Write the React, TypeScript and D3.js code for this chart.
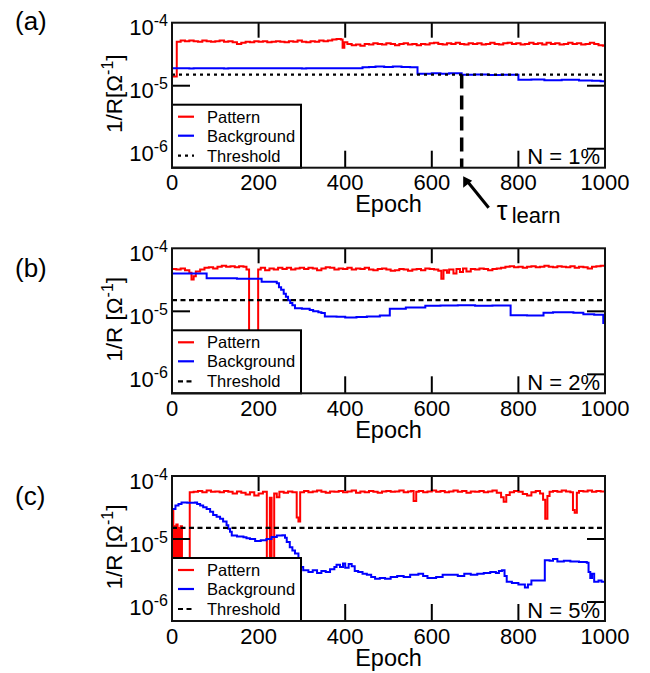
import React from 'react'
import { scaleLinear, scaleLog, line, curveStepAfter } from 'd3'

// [epoch, 1/R] pairs, 1/R in units of 1e-5 Ohm^-1
const patternA: [number, number][] = [
  [0, 1.4], [11, 5.0], [20, 5.2], [30, 5.1], [40, 5.2], [50, 5.1], [60, 5.0], [70, 5.2], [80, 5.1], [90, 5.0],
  [100, 5.1], [110, 5.2], [120, 5.0], [130, 5.1], [140, 4.9], [150, 4.6], [160, 4.8], [170, 5.0], [180, 4.9],
  [190, 5.1], [200, 5.0], [210, 5.1], [220, 4.9], [230, 5.0], [240, 5.1], [250, 5.0], [260, 4.9], [270, 5.1],
  [280, 5.0], [290, 5.2], [300, 5.0], [310, 4.9], [320, 5.1], [330, 5.0], [340, 5.2], [350, 5.1], [360, 5.2],
  [370, 5.4], [380, 5.5], [390, 5.4], [394, 4.0], [398, 4.9], [405, 4.6], [415, 4.4], [425, 4.5], [435, 4.3],
  [445, 4.6], [455, 4.5], [465, 4.7], [475, 4.6], [485, 4.5], [495, 4.7], [505, 4.6], [515, 4.4], [525, 4.6],
  [535, 4.7], [545, 4.5], [555, 4.6], [565, 4.4], [575, 4.6], [585, 4.5], [595, 4.7], [605, 4.8], [615, 4.6],
  [625, 4.5], [635, 4.7], [645, 4.6], [655, 4.8], [665, 4.6], [675, 4.5], [685, 4.7], [695, 4.6], [705, 4.7],
  [715, 4.5], [725, 4.6], [735, 4.8], [745, 4.6], [755, 4.5], [765, 4.7], [775, 4.8], [785, 4.6], [795, 4.7],
  [805, 4.5], [815, 4.6], [825, 4.8], [835, 4.6], [845, 4.7], [855, 4.5], [865, 4.8], [875, 4.6], [885, 4.7],
  [895, 4.5], [905, 4.6], [915, 4.8], [925, 4.6], [935, 4.7], [945, 4.5], [955, 4.6], [965, 4.8], [975, 4.6],
  [985, 4.4], [995, 4.3], [1000, 4.3],
]
const backgroundA: [number, number][] = [
  [0, 1.9], [40, 1.88], [50, 1.9], [120, 1.88], [130, 1.9], [200, 1.89], [210, 1.9], [300, 1.88], [310, 1.9],
  [440, 1.97], [455, 1.99], [470, 2.02], [490, 1.99], [510, 2.02], [530, 1.99], [550, 1.97], [567, 1.55],
  [600, 1.57], [620, 1.55], [640, 1.58], [669, 1.49], [700, 1.5], [730, 1.48], [760, 1.49], [800, 1.24],
  [830, 1.25], [860, 1.22], [900, 1.24], [940, 1.21], [970, 1.2], [990, 1.18], [1000, 1.18],
]
const patternB: [number, number][] = [
  [0, 4.7], [10, 4.6], [20, 4.8], [30, 4.5], [40, 4.1], [45, 3.2], [50, 3.6], [55, 4.3], [65, 4.6], [75, 4.9],
  [85, 5.0], [95, 4.8], [105, 5.1], [115, 5.3], [125, 5.1], [135, 5.2], [145, 5.0], [155, 5.2], [165, 5.1],
  [172, 4.6], [178, 0.01], [199, 4.6], [205, 4.9], [215, 4.5], [225, 4.8], [235, 4.6], [245, 4.9], [255, 4.7],
  [265, 4.9], [275, 4.6], [285, 4.8], [295, 4.9], [305, 4.7], [315, 4.9], [325, 4.8], [335, 4.5], [345, 4.8],
  [355, 5.0], [365, 4.9], [375, 4.6], [385, 4.8], [395, 4.7], [405, 4.9], [415, 4.6], [425, 4.8], [435, 4.7],
  [445, 4.9], [455, 4.6], [465, 4.5], [475, 4.7], [485, 4.8], [495, 4.6], [505, 4.4], [515, 4.5], [525, 4.7],
  [535, 4.6], [545, 4.4], [555, 4.6], [565, 4.7], [575, 4.5], [585, 4.8], [595, 4.7], [605, 4.6], [615, 4.4],
  [622, 3.3], [627, 4.5], [635, 4.1], [640, 4.6], [650, 4.0], [657, 4.7], [665, 4.2], [672, 4.8], [680, 4.3],
  [690, 4.7], [700, 4.6], [710, 4.8], [720, 4.7], [730, 4.5], [740, 4.7], [750, 4.8], [760, 4.9], [770, 5.1],
  [780, 5.2], [790, 5.0], [800, 5.1], [810, 4.9], [820, 5.1], [830, 5.2], [840, 5.0], [850, 5.1], [860, 5.3],
  [870, 5.1], [880, 5.0], [890, 5.2], [900, 5.1], [910, 5.0], [920, 5.2], [930, 4.9], [940, 5.1], [950, 5.0],
  [960, 4.8], [970, 5.1], [980, 5.2], [990, 5.3], [1000, 5.3],
]
const backgroundB: [number, number][] = [
  [0, 4.0], [80, 3.35], [150, 3.3], [207, 2.95], [242, 2.8], [247, 2.4], [252, 2.2], [258, 1.9], [263, 1.7],
  [268, 1.5], [273, 1.35], [278, 1.25], [284, 1.12], [300, 1.1], [318, 1.05], [326, 1.0], [338, 0.97],
  [345, 0.94], [353, 0.83], [380, 0.82], [400, 0.8], [426, 0.81], [450, 0.83], [480, 0.86], [503, 1.1],
  [540, 1.15], [585, 1.22], [620, 1.24], [660, 1.25], [700, 1.23], [740, 1.24], [782, 0.87], [820, 0.86],
  [858, 0.95], [880, 0.97], [927, 0.95], [950, 0.9], [975, 0.88], [996, 0.65], [1000, 0.65],
]
const patternC: [number, number][] = [
  [0, 2.9], [3, 0.01], [5, 1.6], [8, 0.01], [10, 1.7], [13, 0.01], [15, 1.5], [18, 0.01], [20, 1.6], [23, 0.01],
  [41, 5.5], [50, 5.6], [60, 5.8], [70, 5.5], [80, 5.9], [90, 5.6], [100, 5.7], [110, 5.5], [120, 5.8],
  [130, 5.6], [140, 5.3], [150, 5.7], [160, 5.4], [170, 5.1], [180, 5.5], [190, 4.9], [200, 5.3], [210, 5.6],
  [219, 0.01], [226, 4.5], [230, 0.01], [236, 5.3], [242, 4.6], [248, 5.6], [258, 5.4], [268, 5.7], [278, 5.5],
  [288, 2.2], [292, 1.9], [296, 5.5], [305, 5.8], [315, 5.5], [325, 5.7], [335, 5.9], [345, 5.6], [355, 5.4],
  [365, 5.7], [375, 5.6], [385, 5.8], [395, 5.5], [405, 5.7], [415, 5.9], [425, 5.4], [435, 5.7], [445, 5.5],
  [455, 5.8], [465, 5.6], [475, 5.4], [485, 5.7], [495, 5.8], [505, 5.6], [515, 5.7], [525, 5.9], [535, 5.5],
  [545, 5.7], [552, 5.8], [558, 4.0], [564, 5.6], [570, 5.8], [580, 5.5], [590, 5.7], [600, 5.9], [610, 5.6],
  [620, 5.8], [630, 5.5], [640, 5.7], [650, 5.9], [660, 5.6], [670, 5.8], [680, 5.4], [690, 5.7], [700, 5.6],
  [710, 5.8], [720, 5.5], [730, 5.7], [740, 5.9], [750, 5.4], [760, 4.6], [766, 3.9], [772, 5.0], [780, 5.5],
  [790, 5.8], [800, 5.6], [810, 5.2], [820, 4.9], [830, 5.5], [840, 5.8], [850, 5.3], [857, 4.2], [862, 2.1],
  [867, 4.8], [872, 5.6], [880, 5.8], [890, 5.6], [900, 5.9], [910, 5.7], [920, 5.5], [926, 2.9], [930, 2.6],
  [935, 5.4], [940, 5.8], [950, 5.7], [960, 5.9], [970, 5.6], [980, 5.8], [990, 5.7], [1000, 5.7],
]
const backgroundC: [number, number][] = [
  [0, 3.0], [3, 3.0], [8, 3.4], [15, 3.6], [22, 3.8], [35, 3.75], [53, 3.8], [58, 3.6], [65, 3.4], [72, 3.2],
  [80, 3.0], [88, 2.7], [95, 2.4], [103, 2.25], [111, 2.1], [118, 1.9], [126, 1.65], [130, 1.45], [134, 1.3],
  [138, 1.14], [150, 1.1], [165, 1.07], [172, 1.03], [180, 1.0], [192, 0.93], [205, 0.96], [218, 1.0],
  [230, 1.08], [242, 1.14], [255, 1.15], [261, 1.05], [265, 0.9], [272, 0.74], [278, 0.66], [284, 0.59],
  [292, 0.45], [298, 0.36], [303, 0.32], [315, 0.3], [325, 0.32], [335, 0.29], [345, 0.31], [355, 0.3],
  [365, 0.33], [375, 0.36], [380, 0.39], [388, 0.36], [395, 0.41], [400, 0.35], [408, 0.4], [415, 0.37],
  [422, 0.31], [430, 0.3], [440, 0.28], [450, 0.27], [460, 0.25], [469, 0.235], [480, 0.24], [492, 0.235],
  [505, 0.25], [520, 0.26], [535, 0.25], [550, 0.27], [569, 0.28], [580, 0.26], [590, 0.24], [600, 0.24],
  [610, 0.25], [625, 0.27], [646, 0.27], [660, 0.26], [675, 0.28], [690, 0.27], [705, 0.28], [720, 0.29],
  [735, 0.3], [748, 0.29], [755, 0.31], [762, 0.32], [768, 0.26], [773, 0.21], [785, 0.2], [800, 0.19],
  [815, 0.17], [822, 0.19], [830, 0.22], [845, 0.22], [853, 0.22], [861, 0.46], [872, 0.45], [880, 0.48],
  [890, 0.44], [905, 0.45], [920, 0.44], [940, 0.43], [958, 0.42], [962, 0.3], [966, 0.24], [970, 0.28],
  [975, 0.21], [985, 0.22], [992, 0.21], [1000, 0.22],
]

const threshold = 1.5
const tauLearn = 669
const xTickLabels = [0, 200, 400, 600, 800, 1000]
const xInnerTicks = [200, 400, 600, 800]
const yTickExps = [-4, -5, -6]
const legendNames = ['Pattern', 'Background', 'Threshold']
const panelNames = ['(a)', '(b)', '(c)']
const noiseLabels = ['N = 1%', 'N = 2%', 'N = 5%']
const yLabels = ['1/R[Ω', '1/R [Ω', '1/R [Ω']

const UNIT = 1e-5
const W = 650
const H = 673
const left = 172
const pw = 433
const ph = 145
const tops = [22.7, 248.3, 476]
const nameBaselines = [30, 276.7, 505]
const font = '"Liberation Sans", Arial, Helvetica, sans-serif'

const series = [
  { pattern: patternA, background: backgroundA },
  { pattern: patternB, background: backgroundB },
  { pattern: patternC, background: backgroundC },
]

function Panel({ i }: { i: number }) {
  const top = tops[i]
  const x = scaleLinear().domain([0, 1000]).range([0, pw])
  const y = scaleLog().domain([5e-7, 1e-4]).range([ph, 0])
  const path = line<[number, number]>()
    .x(d => x(d[0]))
    .y(d => y(d[1] * UNIT))
    .curve(curveStepAfter)
  const thrDash = i === 0 ? '3,4' : '5,3.5'
  const thrY = y(threshold * UNIT)
  const clipId = 'clip' + i

  return (
    <g transform={`translate(${left},${top})`}>
      <defs>
        <clipPath id={clipId}>
          <rect x={0} y={0} width={pw} height={ph} />
        </clipPath>
      </defs>

      <text x={15 - left} y={nameBaselines[i] - top} fontSize={26}>{panelNames[i]}</text>

      <g clipPath={`url(#${clipId})`}>
        <path d={path(series[i].pattern) || ''} fill="none" stroke="#ff0000" strokeWidth={2} />
        <path d={path(series[i].background) || ''} fill="none" stroke="#0000ff" strokeWidth={2} />
        <line x1={0} x2={pw} y1={thrY} y2={thrY} stroke="#000" strokeWidth={2.2} strokeDasharray={thrDash} />
      </g>

      {i === 0 && (
        <line x1={x(tauLearn)} x2={x(tauLearn)} y1={thrY} y2={ph}
          stroke="#000" strokeWidth={3.5} strokeDasharray="14,7" />
      )}

      {/* ticks, inward on all sides */}
      {xInnerTicks.map(t => (
        <g key={'xt' + t}>
          <line x1={x(t)} x2={x(t)} y1={0} y2={15} stroke="#000" strokeWidth={2} />
          <line x1={x(t)} x2={x(t)} y1={ph} y2={ph - 17} stroke="#000" strokeWidth={2} />
        </g>
      ))}
      {yTickExps.slice(1).map(e => (
        <g key={'yt' + e}>
          <line x1={0} x2={18} y1={y(Math.pow(10, e))} y2={y(Math.pow(10, e))} stroke="#000" strokeWidth={2} />
          <line x1={pw} x2={pw - 18} y1={y(Math.pow(10, e))} y2={y(Math.pow(10, e))} stroke="#000" strokeWidth={2} />
        </g>
      ))}

      {/* legend */}
      <g transform={`translate(0,${ph - 63})`}>
        <rect x={0} y={0} width={129} height={63} fill="#fff" stroke="#000" strokeWidth={2} />
        {legendNames.map((name, k) => {
          const ly = [12, 31, 51][k]
          const color = k === 0 ? '#ff0000' : k === 1 ? '#0000ff' : '#000'
          return (
            <g key={name}>
              <line x1={6} x2={22} y1={ly} y2={ly} stroke={color} strokeWidth={2.2}
                strokeDasharray={k === 2 ? thrDash : undefined} />
              <text x={35} y={ly + 6} fontSize={16.5}>{name}</text>
            </g>
          )
        })}
      </g>

      <rect x={0} y={0} width={pw} height={ph} fill="none" stroke="#111" strokeWidth={2} />

      <text x={pw - 5} y={ph - 3.5} fontSize={22} textAnchor="end">{noiseLabels[i]}</text>

      {/* axis labels */}
      {xTickLabels.map(t => (
        <text key={'xl' + t} x={x(t)} y={ph + 22.5} fontSize={22} textAnchor="middle">{t}</text>
      ))}
      {yTickExps.map(e => (
        <text key={'yl' + e} x={-4} y={y(Math.pow(10, e)) + 12.5} fontSize={22} textAnchor="end">
          10<tspan dy={-9} fontSize={16}>{e}</tspan>
        </text>
      ))}
      <text x={pw / 2} y={ph + 44.5} fontSize={23.5} textAnchor="middle">Epoch</text>
      <text transform={`translate(${122 - left},${ph / 2 - 1.5}) rotate(-90)`} fontSize={22.5} textAnchor="middle">
        {yLabels[i]}<tspan dy={-9} fontSize={16}>-1</tspan><tspan dy={9}>]</tspan>
      </text>

      {i === 0 && (
        <g>
          <line x1={x(tauLearn) + 27} y1={ph + 40} x2={x(tauLearn) + 6} y2={ph + 14}
            stroke="#000" strokeWidth={3} />
          <polygon
            points={`${x(tauLearn) + 1.5},${ph + 8.5} ${x(tauLearn) + 1.5},${ph + 20} ${x(tauLearn) + 10.5},${ph + 13}`}
            fill="#000" />
          <text x={x(tauLearn) + 35} y={ph + 52} fontSize={27}>τ</text>
          <text x={x(tauLearn) + 50} y={ph + 55} fontSize={22}>learn</text>
        </g>
      )}
    </g>
  )
}

export default function App() {
  return (
    <svg width={W} height={H} style={{ position: 'absolute', left: 0, top: 0 }} fontFamily={font}>
      <rect width={W} height={H} fill="#fff" />
      {[0, 1, 2].map(i => <Panel key={i} i={i} />)}
    </svg>
  )
}
